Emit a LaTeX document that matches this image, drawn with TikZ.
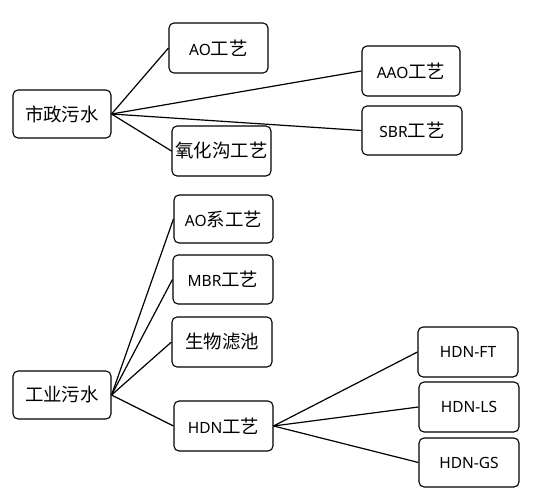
\documentclass[tikz,border=0pt]{standalone}
\usepackage{fontspec}
\setmainfont{Noto Sans}
\newfontfamily\cjk[Scale=1.19]{Noto Sans CJK SC}
\begin{document}
\begin{tikzpicture}[x=1pt,y=-1pt,
  box/.style={draw=black,line width=1.1pt,rounded corners=5pt,fill=white,inner sep=0pt,font=\fontsize{15.5}{18}\selectfont},
  link/.style={draw=black,line width=1.2pt}]
\useasboundingbox[fill=white] (0,0) rectangle (533,500);
\newcommand\bx[6]{\node[box,minimum width=#4-#2,minimum height=#5-#3] (#1) at ({(#2+#4)/2},{(#3+#5)/2}) {#6};}
\bx{sz}{13}{90}{111}{138}{\cjk 市政污水}
\bx{ao}{169}{23}{268}{73}{AO{\cjk 工艺}}
\bx{yh}{172}{126}{271}{176}{\cjk 氧化沟工艺}
\bx{aao}{362}{46}{460}{96}{AAO{\cjk 工艺}}
\bx{sbr}{362}{106}{462}{155}{SBR{\cjk 工艺}}
\bx{gy}{13}{371}{111}{419}{\cjk 工业污水}
\bx{aox}{174}{195}{273}{243}{AO{\cjk 系工艺}}
\bx{mbr}{173}{255}{273}{304}{MBR{\cjk 工艺}}
\bx{sw}{172}{317}{272}{367}{\cjk 生物滤池}
\bx{hdn}{174}{401}{273}{451}{HDN{\cjk 工艺}}
\bx{ft}{418}{327}{518}{377}{HDN-FT}
\bx{ls}{419}{382}{519}{432}{HDN-LS}
\bx{gs}{419}{438}{519}{487}{HDN-GS}
\foreach \t in {ao,yh,aao,sbr}{\draw[link] (sz.east) -- (\t.west);}
\foreach \t in {aox,mbr,sw,hdn}{\draw[link] (gy.east) -- (\t.west);}
\foreach \t in {ft,ls,gs}{\draw[link] (hdn.east) -- (\t.west);}
\end{tikzpicture}
\end{document}
